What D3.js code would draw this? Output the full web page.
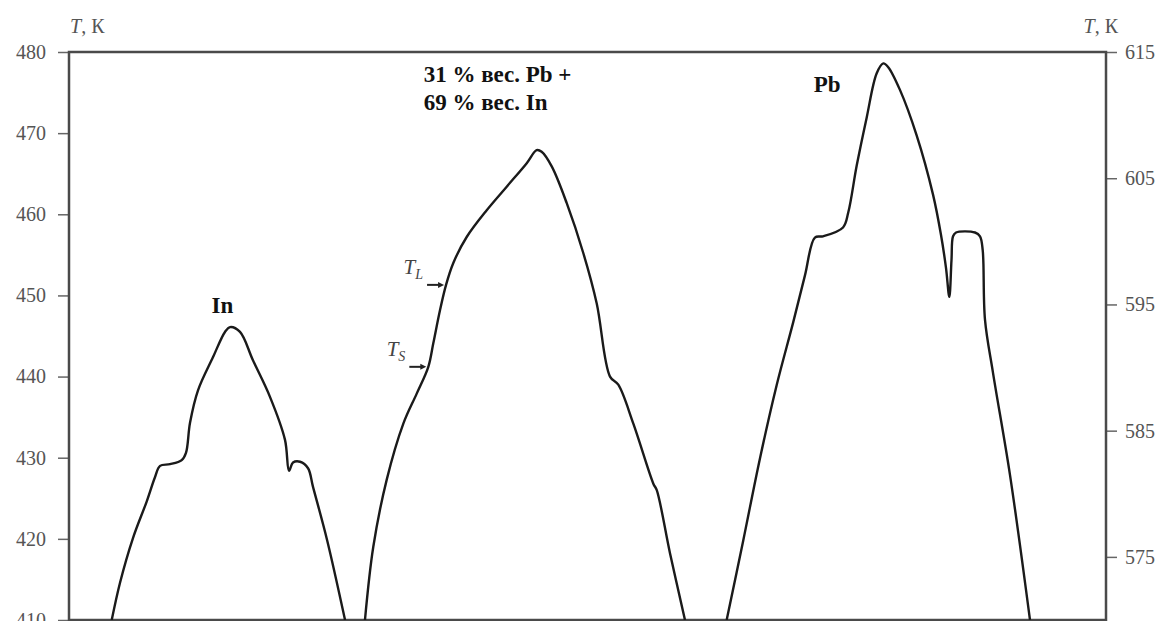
<!DOCTYPE html>
<html>
<head>
<meta charset="utf-8">
<script src="https://cdn.jsdelivr.net/npm/d3@7"></script>
<style>
  body { margin: 0; background: #fff; }
  svg { display: block; }
  .tick text { font-family: 'Liberation Serif', 'DejaVu Serif', serif; font-size: 20px; fill: #555; }
  .tick line { stroke: #666; stroke-width: 1.5; }
</style>
</head>
<body>
<script>
// heating/cooling curves, time in arbitrary units
const inTime = [4.12, 4.92, 6.17, 7.49, 8.29, 8.78, 9.74, 10.87, 11.28, 11.67, 12.44, 13.89, 15.04, 15.53, 16.49, 17.74, 19.38, 20.83, 21.22, 21.6, 22.28, 23.05, 23.53, 24.88, 26.62];
const inTemp = [410, 414.6, 420.1, 424.6, 427.6, 429.0, 429.2, 429.7, 430.6, 434.3, 438.3, 442.4, 445.5, 446.1, 445.5, 442.0, 437.5, 432.2, 428.4, 429.4, 429.5, 428.7, 426.4, 419.9, 410];

const mixTime = [28.54, 29.34, 30.64, 32.24, 33.53, 34.65, 35.13, 35.78, 36.36, 37.06, 38.35, 40.28, 42.21, 44.14, 45.1, 45.58, 46.55, 47.99, 49.6, 50.89, 52.17, 52.97, 54.42, 56.35, 56.68, 57.96, 59.4];
const mixTemp = [410, 419.0, 427.3, 434.2, 437.9, 441.2, 444.1, 448.2, 451.3, 454.0, 457.2, 460.5, 463.4, 466.3, 467.9, 467.7, 465.9, 461.4, 455.2, 449.0, 440.0, 439.0, 434.2, 426.8, 426.0, 418.2, 410];

// Pb is read on the right axis
const pbTime = [63.42, 65.02, 66.63, 68.24, 69.84, 70.97, 71.93, 72.71, 74.64, 75.15, 75.96, 76.92, 77.88, 78.52, 79.0, 80.13, 81.74, 83.32, 84.09, 84.57, 84.89, 85.1, 85.25, 85.54, 87.37, 87.85, 88.11, 88.33, 89.1, 90.74, 92.67];
const pbTemp = [570, 576.3, 582.8, 588.6, 593.6, 597.3, 600.3, 600.4, 601.1, 602.3, 606.0, 609.8, 613.3, 614.1, 613.8, 612.0, 608.4, 603.7, 600.5, 597.9, 595.6, 598.5, 600.4, 600.7, 600.7, 600.4, 599.3, 593.8, 589.6, 581.5, 570];

const leftTicks = [410, 420, 430, 440, 450, 460, 470, 480];
const rightTicks = [575, 585, 595, 605, 615];

// solidus / liquidus marks on the alloy curve
const marks = [
  { sub: 'L', t: 36.36, T: 451.3 },
  { sub: 'S', t: 34.65, T: 441.2 }
];

const width = 1163, height = 621;
const mLeft = 69, mRight = 1106, mTop = 52, mBottom = 620;
const serif = "'Liberation Serif', 'DejaVu Serif', serif";

const svg = d3.select('body').append('svg')
  .attr('width', width)
  .attr('height', height);

const x = d3.scaleLinear().domain([0, 100]).range([mLeft, mRight]);
const yL = d3.scaleLinear().domain([410, 480]).range([mBottom, mTop]);
const yR = d3.scaleLinear().domain([570, 615]).range([mBottom, mTop]);

svg.append('defs').append('clipPath').attr('id', 'plot')
  .append('rect')
  .attr('x', mLeft).attr('y', mTop)
  .attr('width', mRight - mLeft).attr('height', mBottom - mTop);

svg.append('g')
  .attr('transform', 'translate(' + mLeft + ', 0)')
  .call(d3.axisLeft(yL).tickValues(leftTicks).tickSize(11).tickPadding(12))
  .attr('font-family', serif)
  .attr('font-size', 20)
  .call(g => g.select('.domain').remove());

svg.append('g')
  .attr('transform', 'translate(' + mRight + ', 0)')
  .call(d3.axisRight(yR).tickValues(rightTicks).tickSize(11).tickPadding(8))
  .attr('font-family', serif)
  .attr('font-size', 20)
  .call(g => g.select('.domain').remove());

svg.append('rect')
  .attr('x', mLeft).attr('y', mTop)
  .attr('width', mRight - mLeft).attr('height', mBottom - mTop)
  .attr('fill', 'none')
  .attr('stroke', '#4a4a4a')
  .attr('stroke-width', 2.5);

function curve(times, temps, yScale) {
  const pts = times.map((t, i) => [t, temps[i]]);
  const line = d3.line()
    .x(d => x(d[0]))
    .y(d => yScale(d[1]))
    .curve(d3.curveCatmullRom.alpha(0.5));
  svg.append('path')
    .datum(pts)
    .attr('d', line)
    .attr('clip-path', 'url(#plot)')
    .attr('fill', 'none')
    .attr('stroke', '#1a1a1a')
    .attr('stroke-width', 2.4)
    .attr('stroke-linejoin', 'round');
}

curve(inTime, inTemp, yL);
curve(mixTime, mixTemp, yL);
curve(pbTime, pbTemp, yR);

// axis titles
function axisTitle(xPos, anchor) {
  const t = svg.append('text')
    .attr('x', xPos).attr('y', 33)
    .attr('text-anchor', anchor)
    .attr('font-family', serif)
    .attr('font-size', 20)
    .attr('fill', '#555');
  t.append('tspan').attr('font-style', 'italic').text('T');
  t.append('tspan').text(', К');
}
axisTitle(70, 'start');
axisTitle(1118, 'end');

// curve labels
function label(txt, xPos, yPos, anchor) {
  svg.append('text')
    .attr('x', xPos).attr('y', yPos)
    .attr('text-anchor', anchor || 'middle')
    .attr('font-family', serif)
    .attr('font-weight', 'bold')
    .attr('font-size', 23)
    .attr('fill', '#111')
    .text(txt);
}
label('In', x(14.8), 313);
label('Pb', x(73.1), 92);
label('31 % вес. Pb +', x(34.2), 82, 'start');
label('69 % вес. In', x(34.2), 110, 'start');

marks.forEach(m => {
  const px = x(m.t) - 2, py = yL(m.T);
  svg.append('line')
    .attr('x1', px - 17).attr('x2', px - 4)
    .attr('y1', py).attr('y2', py)
    .attr('stroke', '#222').attr('stroke-width', 2);
  svg.append('path')
    .attr('d', `M${px},${py} L${px - 6},${py - 3} L${px - 6},${py + 3} Z`)
    .attr('fill', '#222');
  const t = svg.append('text')
    .attr('x', px - 21).attr('y', py - 11)
    .attr('text-anchor', 'end')
    .attr('font-family', serif)
    .attr('font-style', 'italic')
    .attr('font-size', 21)
    .attr('fill', '#444');
  t.append('tspan').text('T');
  t.append('tspan').attr('font-size', 14).attr('dy', 5).text(m.sub);
});
</script>
</body>
</html>
